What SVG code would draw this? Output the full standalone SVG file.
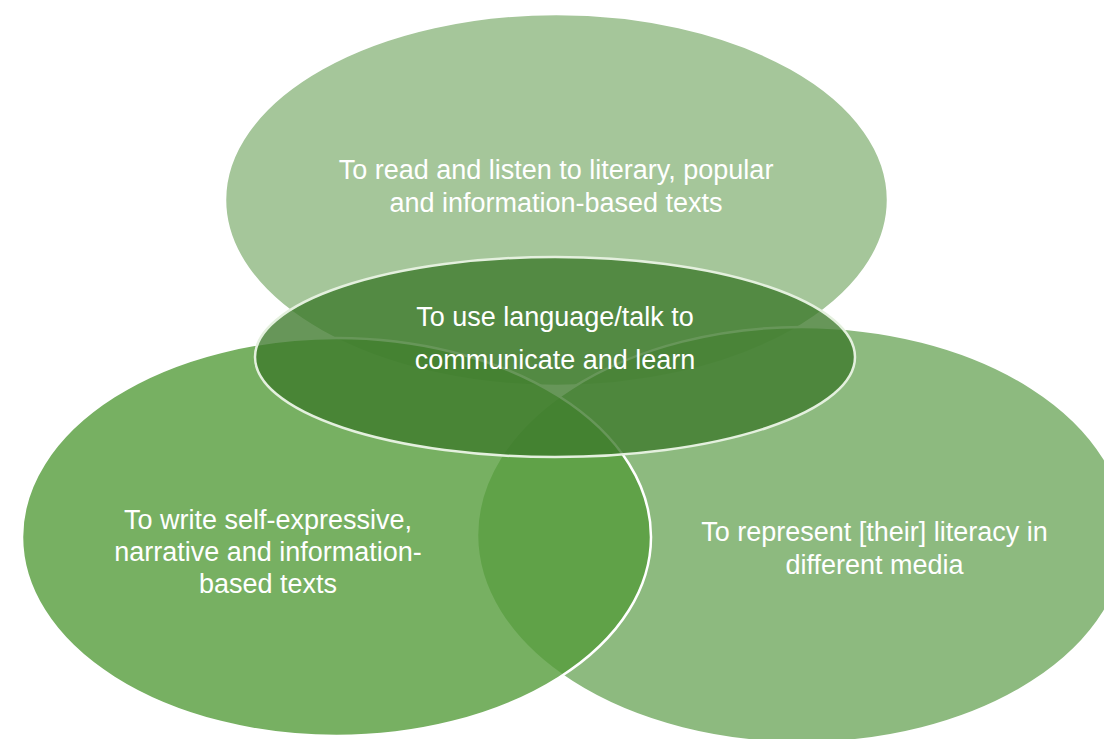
<svg xmlns="http://www.w3.org/2000/svg" width="1104" height="739" viewBox="0 0 1104 739">
<style>
.lbl{font-family:"Liberation Sans",Arial,sans-serif;font-size:27px;fill:#ffffff;text-anchor:middle}
.outer{stroke:#ffffff;stroke-width:2.5}
</style>
<rect width="1104" height="739" fill="#ffffff"/>
<g id="node-read">
<ellipse cx="556.5" cy="200" rx="331.5" ry="186" fill="#A5C69A" class="outer" stroke-width="1.5"/>
<text class="lbl" x="556" y="179">To read and listen to literary, popular</text>
<text class="lbl" x="556" y="212">and information-based texts</text>
</g>
<g id="node-represent">
<ellipse cx="802" cy="535" rx="325" ry="208" fill="#71A95F" fill-opacity="0.8" class="outer" stroke-width="1.5"/>
<text class="lbl" x="874.5" y="541">To represent [their] literacy in</text>
<text class="lbl" x="874.5" y="574">different media</text>
</g>
<g id="node-write">
<ellipse cx="336.5" cy="537" rx="314.5" ry="199" fill="#559C3B" fill-opacity="0.8" class="outer"/>
<text class="lbl" x="268" y="529">To write self-expressive,</text>
<text class="lbl" x="268" y="561">narrative and information-</text>
<text class="lbl" x="268" y="593">based texts</text>
</g>
<g id="node-talk">
<ellipse cx="555" cy="357" rx="300" ry="100" fill="#3C792A" fill-opacity="0.78" stroke="#E4F0DE" stroke-width="2.5"/>
<text class="lbl" x="555" y="326">To use language/talk to</text>
<text class="lbl" x="555" y="369">communicate and learn</text>
</g>
<g id="connectors"></g>
</svg>
